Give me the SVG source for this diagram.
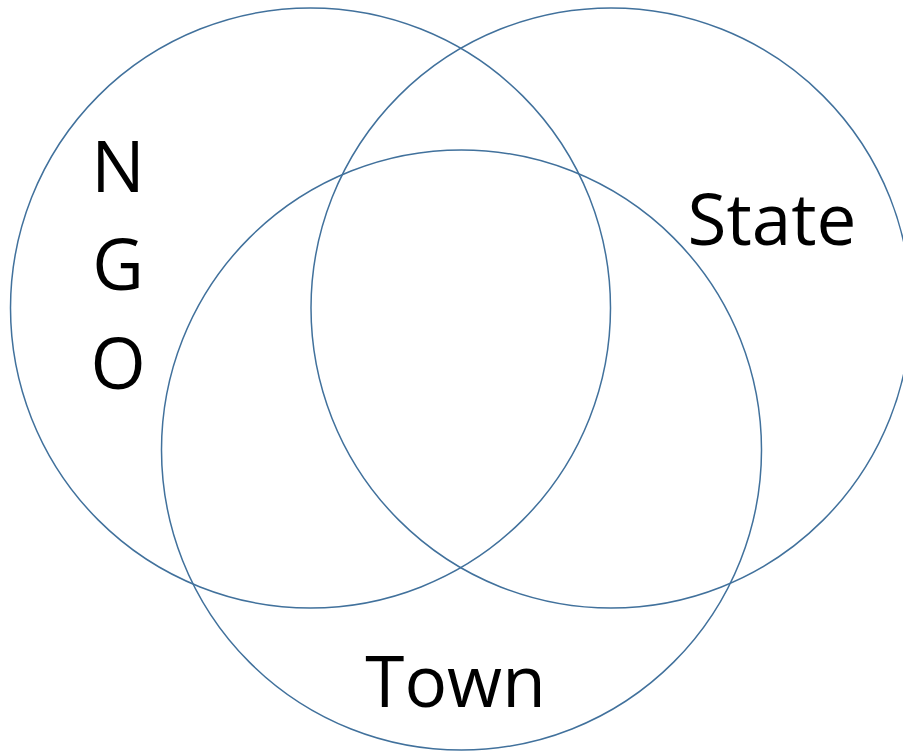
<svg xmlns="http://www.w3.org/2000/svg" width="903" height="751" viewBox="0 0 903 751">
<style>
.c{fill:none;stroke:#41719C;stroke-width:1.5}
.t{font-family:"Open Sans","Liberation Sans",sans-serif;font-size:71px;fill:#000}
</style>
<rect width="903" height="751" fill="#fff"/>
<g id="ngo"><circle class="c" cx="310.5" cy="308" r="300"/>
<text class="t" x="118" y="192" text-anchor="middle">N</text>
<text class="t" x="118" y="290" text-anchor="middle">G</text>
<text class="t" x="118" y="389" text-anchor="middle">O</text></g>
<g id="state"><circle class="c" cx="611" cy="308" r="300"/>
<text class="t" x="772" y="245" text-anchor="middle">State</text></g>
<g id="town"><circle class="c" cx="461.5" cy="450" r="300"/>
<text class="t" x="455.5" y="707" text-anchor="middle">Town</text></g>
<g id="connectors"></g>
</svg>
